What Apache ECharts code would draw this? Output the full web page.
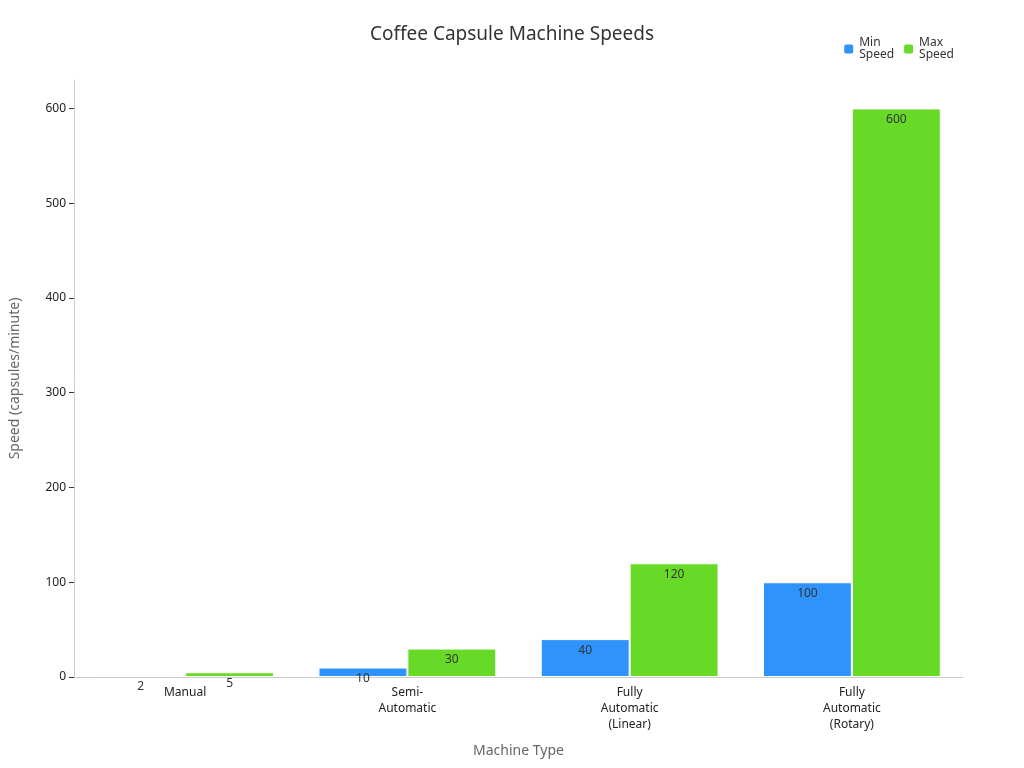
<!DOCTYPE html><html><head><meta charset="utf-8"><script src="https://cdn.jsdelivr.net/npm/echarts@6/dist/echarts.min.js"></script></head><body style="margin:0"><div id="c" style="width:1024px;height:768px"></div><script>
const categories=["Manual","Semi-\nAutomatic","Fully\nAutomatic\n(Linear)","Fully\nAutomatic\n(Rotary)"];
const minSpeed=[2,10,40,100];
const maxSpeed=[5,30,120,600];
const ch=echarts.init(document.getElementById('c'));
const f='"Noto Sans",sans-serif';
const lbl={show:true,position:'insideTop',color:'#333',fontSize:12,fontFamily:f};
ch.setOption({
title:{text:'Coffee Capsule Machine Speeds',left:'center',top:20,textStyle:{fontSize:19,fontWeight:'normal',color:'#333',fontFamily:f}},
legend:{right:65,top:32,itemWidth:11,itemHeight:11,textStyle:{fontSize:12,color:'#333',fontFamily:f},data:['Min\nSpeed','Max\nSpeed']},
grid:{left:68,right:61,top:80,bottom:91},
xAxis:{type:'category',data:categories,name:'Machine Type',nameLocation:'middle',nameGap:67,nameTextStyle:{fontSize:14,color:'#666',fontFamily:f},axisLine:{lineStyle:{color:'#ccc'}},axisTick:{lineStyle:{color:'#333'}},axisLabel:{color:'#222',fontSize:12,fontFamily:f,lineHeight:16}},
yAxis:{type:'value',min:0,max:630,interval:100,name:'Speed (capsules/minute)',nameLocation:'middle',nameGap:52,nameTextStyle:{fontSize:14,color:'#666',fontFamily:f},axisLine:{show:true,lineStyle:{color:'#ccc'}},axisTick:{show:true,lineStyle:{color:'#333'}},axisLabel:{color:'#222',fontSize:12,fontFamily:f,showMaxLabel:false},splitLine:{show:false}},
series:[
{name:'Min\nSpeed',type:'bar',data:minSpeed,barWidth:'40%',barGap:'0%',itemStyle:{color:'#2e93fa',borderColor:'#fff',borderWidth:1},label:lbl},
{name:'Max\nSpeed',type:'bar',data:maxSpeed,barWidth:'40%',itemStyle:{color:'#66da26',borderColor:'#fff',borderWidth:1},label:lbl}
]});
</script></body></html>
